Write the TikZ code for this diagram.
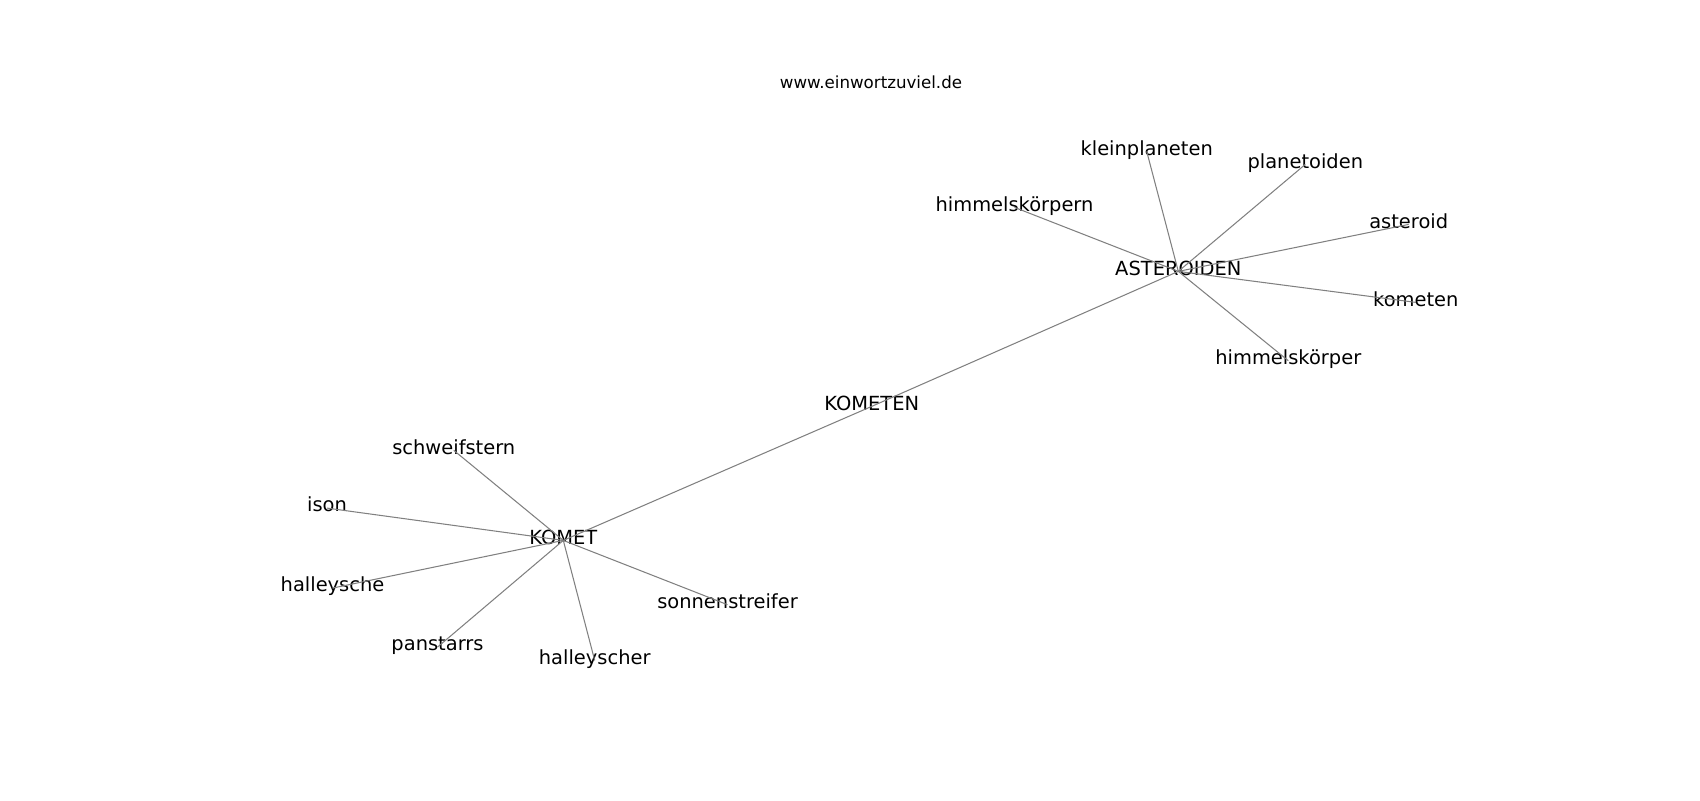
\documentclass[tikz,border=0pt]{standalone}
\usepackage{fontspec}
\setmainfont{DejaVu Sans}
\begin{document}
\begin{tikzpicture}[x=0.72pt,y=-0.72pt,
  lbl/.style={inner sep=0pt, text height=0.76em, text depth=0.24em, font=\fontsize{14}{16}\selectfont, anchor=base},
  ttl/.style={inner sep=0pt, font=\fontsize{12}{14}\selectfont, anchor=base},
  edge/.style={draw={rgb,255:red,128;green,128;blue,128}, line width=0.75pt}]
\useasboundingbox[fill=white] (0,0) rectangle (1700,800);
\node[ttl] (title) at (871,88) {www.einwortzuviel.de};
\node[lbl] (ast) at (1178.3,275) {ASTEROIDEN};
\node[lbl] (klein) at (1146.7,155) {kleinplaneten};
\node[lbl] (plan) at (1305.3,168) {planetoiden};
\node[lbl] (asteroid) at (1408.7,228) {asteroid};
\node[lbl] (kometen) at (1415.8,306) {kometen};
\node[lbl] (hk) at (1288.3,364.3) {himmelskörper};
\node[lbl] (hkn) at (1014.5,211) {himmelskörpern};
\node[lbl] (KOMETEN) at (871.7,410) {KOMETEN};
\node[lbl] (komet) at (563.3,544) {KOMET};
\node[lbl] (schweif) at (453.8,454) {schweifstern};
\node[lbl] (ison) at (327,511.7) {ison};
\node[lbl] (halleysche) at (332.5,591.7) {halleysche};
\node[lbl] (pan) at (437.5,650.7) {panstarrs};
\node[lbl] (halleyscher) at (594.7,664) {halleyscher};
\node[lbl] (sonne) at (727.5,608.3) {sonnenstreifer};
\draw[edge] (komet.center) -- (KOMETEN.center);
\draw[edge] (KOMETEN.center) -- (ast.center);
\foreach \n in {klein,plan,asteroid,kometen,hk,hkn}
  \draw[edge] (ast.center) -- (\n.center);
\foreach \n in {schweif,ison,halleysche,pan,halleyscher,sonne}
  \draw[edge] (komet.center) -- (\n.center);
\end{tikzpicture}
\end{document}
